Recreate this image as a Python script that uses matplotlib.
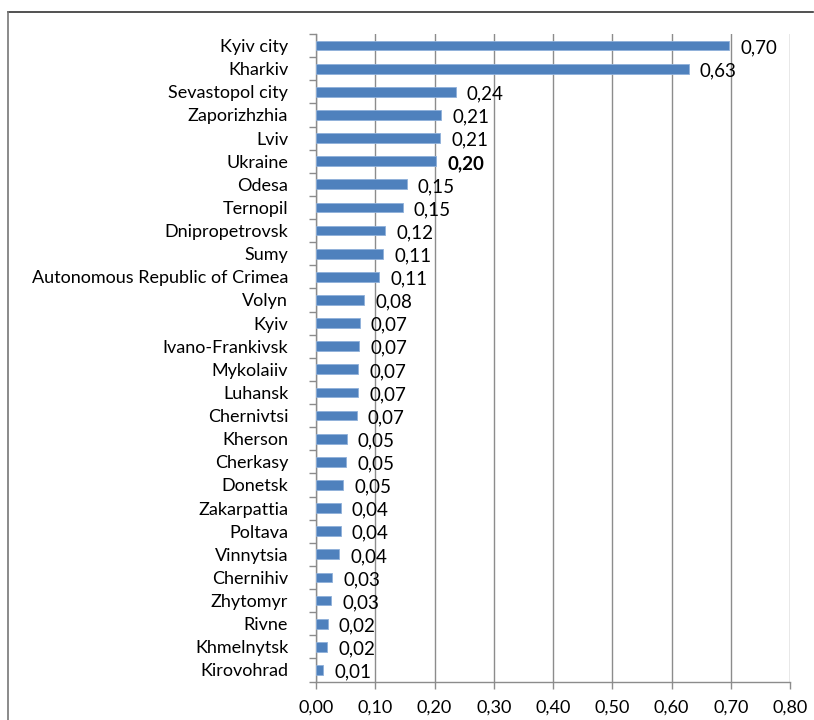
import matplotlib.pyplot as plt
from matplotlib.lines import Line2D

# regions, top to bottom
regions = [
    'Kyiv city', 'Kharkiv', 'Sevastopol city', 'Zaporizhzhia', 'Lviv',
    'Ukraine', 'Odesa', 'Ternopil', 'Dnipropetrovsk', 'Sumy',
    'Autonomous Republic of Crimea', 'Volyn', 'Kyiv', 'Ivano-Frankivsk',
    'Mykolaiiv', 'Luhansk', 'Chernivtsi', 'Kherson', 'Cherkasy', 'Donetsk',
    'Zakarpattia', 'Poltava', 'Vinnytsia', 'Chernihiv', 'Zhytomyr', 'Rivne',
    'Khmelnytsk', 'Kirovohrad',
]
values = [
    0.697, 0.629, 0.236, 0.211, 0.210,
    0.203, 0.153, 0.146, 0.117, 0.113,
    0.107, 0.081, 0.074, 0.073,
    0.071, 0.071, 0.069, 0.052, 0.051, 0.046,
    0.042, 0.042, 0.039, 0.027, 0.026, 0.020,
    0.019, 0.012,
]
highlight = 'Ukraine'

x_ticks = [0.0, 0.1, 0.2, 0.3, 0.4, 0.5, 0.6, 0.7, 0.8]

BAR_COLOR = '#4F81BD'
GRID_COLOR = '#8C8C8C'
FS = 13

plt.rcParams['font.family'] = ['Lato', 'DejaVu Sans']


def comma(v):
    return ('%.2f' % v).replace('.', ',')


fig = plt.figure(figsize=(8.14, 7.2), dpi=100)
ax = fig.add_axes([316 / 814, 1 - 681.5 / 720, (790 - 316) / 814, (681.5 - 34) / 720])

ypos = list(range(len(regions)))
ax.barh(ypos, values, height=0.42, color=BAR_COLOR,
        edgecolor='#8FB0DA', linewidth=0.6, zorder=3)

for y, v, name in zip(ypos, values, regions):
    weight = 'bold' if name == highlight else 'normal'
    ax.annotate(comma(v), (v, y), xytext=(8, -1.5), textcoords='offset points',
                ha='left', va='center', fontsize=FS + 0.5, color='black',
                fontweight=weight, zorder=4)

ax.set_xlim(0, 0.8)
ax.set_ylim(len(regions) - 0.5, -0.5)

ax.set_xticks(x_ticks)
ax.set_xticklabels([comma(t) for t in x_ticks], fontsize=FS)
ax.set_yticks(ypos)
ax.set_yticklabels(regions, fontsize=FS)

# category boundary ticks like the spreadsheet chart
ax.set_yticks([y + 0.5 for y in range(-1, len(regions))], minor=True)
ax.tick_params(axis='y', which='major', length=0, pad=20)
ax.tick_params(axis='y', which='minor', length=5, color=GRID_COLOR, width=1)
ax.tick_params(axis='x', which='major', length=5, color=GRID_COLOR, width=1, pad=8)

ax.grid(axis='x', color=GRID_COLOR, linewidth=1, zorder=0)
for side in ['top', 'right']:
    ax.spines[side].set_visible(False)
for side in ['left', 'bottom']:
    ax.spines[side].set_color(GRID_COLOR)
    ax.spines[side].set_linewidth(1)

# outer frame (cut at right and bottom)
fig.add_artist(Line2D([7.5 / 814, 813 / 814], [1 - 12 / 720, 1 - 12 / 720],
                      color='#333333', linewidth=1.2))
fig.add_artist(Line2D([7.5 / 814, 7.5 / 814], [1 - 12 / 720, 0],
                      color='#777777', linewidth=1.2))

fig.savefig('out.png', dpi=100)
